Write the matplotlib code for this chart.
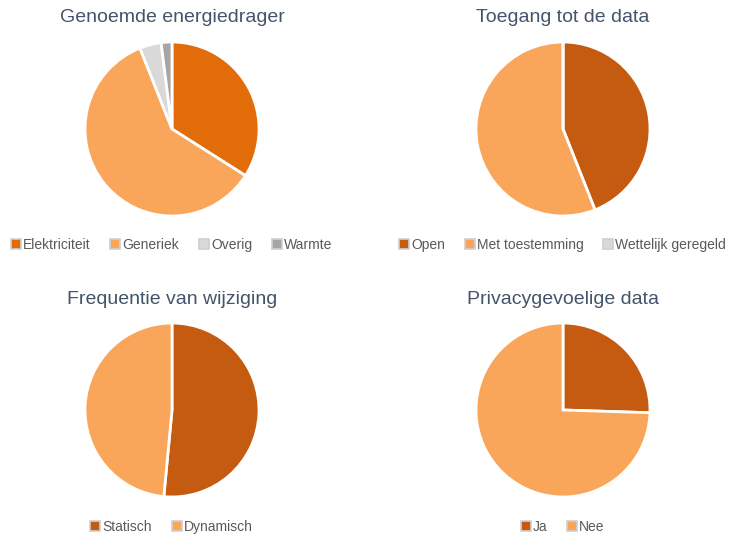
import matplotlib.pyplot as plt
from matplotlib.lines import Line2D

plt.rcParams['font.family'] = ['Liberation Sans', 'DejaVu Sans']

# Data
titels = ['Genoemde energiedrager', 'Toegang tot de data',
          'Frequentie van wijziging', 'Privacygevoelige data']

energie_labels = ['Elektriciteit', 'Generiek', 'Overig', 'Warmte']
energie_waarden = [34, 60, 4, 2]

toegang_labels = ['Open', 'Met toestemming', 'Wettelijk geregeld']
toegang_waarden = [44, 56, 0]

frequentie_labels = ['Statisch', 'Dynamisch']
frequentie_waarden = [51.5, 48.5]

privacy_labels = ['Ja', 'Nee']
privacy_waarden = [25.5, 74.5]

kleuren_energie = ['#E26B0A', '#F9A65A', '#D9D9D9', '#A5A5A5']
kleuren_toegang = ['#C55A11', '#F9A65A', '#D9D9D9']
kleuren_freq = ['#C55A11', '#F9A65A']
kleuren_privacy = ['#C55A11', '#F9A65A']

W, H = 733, 534
fig = plt.figure(figsize=(W / 100, H / 100), dpi=100)

# centres (px), title y, legend y
panels = [
    (energie_labels, energie_waarden, kleuren_energie, 172, 129, 18, 245),
    (toegang_labels, toegang_waarden, kleuren_toegang, 563, 129, 18, 245),
    (frequentie_labels, frequentie_waarden, kleuren_freq, 172, 410, 300, 527),
    (privacy_labels, privacy_waarden, kleuren_privacy, 563, 410, 300, 527),
]
r = 87

for titel, (labels, waarden, kleuren, cx, cy, ty, ly) in zip(titels, panels):
    ax = fig.add_axes([(cx - r) / W, 1 - (cy + r) / H, 2 * r / W, 2 * r / H])
    ax.pie(waarden, colors=kleuren, startangle=90, counterclock=False,
           wedgeprops=dict(edgecolor='white', linewidth=2))
    ax.set_xlim(-1, 1)
    ax.set_ylim(-1, 1)
    ax.set_aspect('equal')
    ax.axis('off')

    fig.text(cx / W, 1 - ty / H, titel, ha='center', va='center',
             fontsize=14, color='#44546A')

    handles = [Line2D([], [], marker='s', linestyle='none', markersize=6.5,
                      markerfacecolor=k, markeredgecolor='#D0D0D0',
                      markeredgewidth=1.2) for k in kleuren]
    fig.legend(handles, labels, loc='center', ncol=len(labels),
               bbox_to_anchor=(cx / W, 1 - ly / H), frameon=False,
               fontsize=10, labelcolor='#595959', handlelength=0.6,
               handletextpad=0.2, columnspacing=1.5)

fig.savefig('out.png', dpi=100, facecolor='white')
